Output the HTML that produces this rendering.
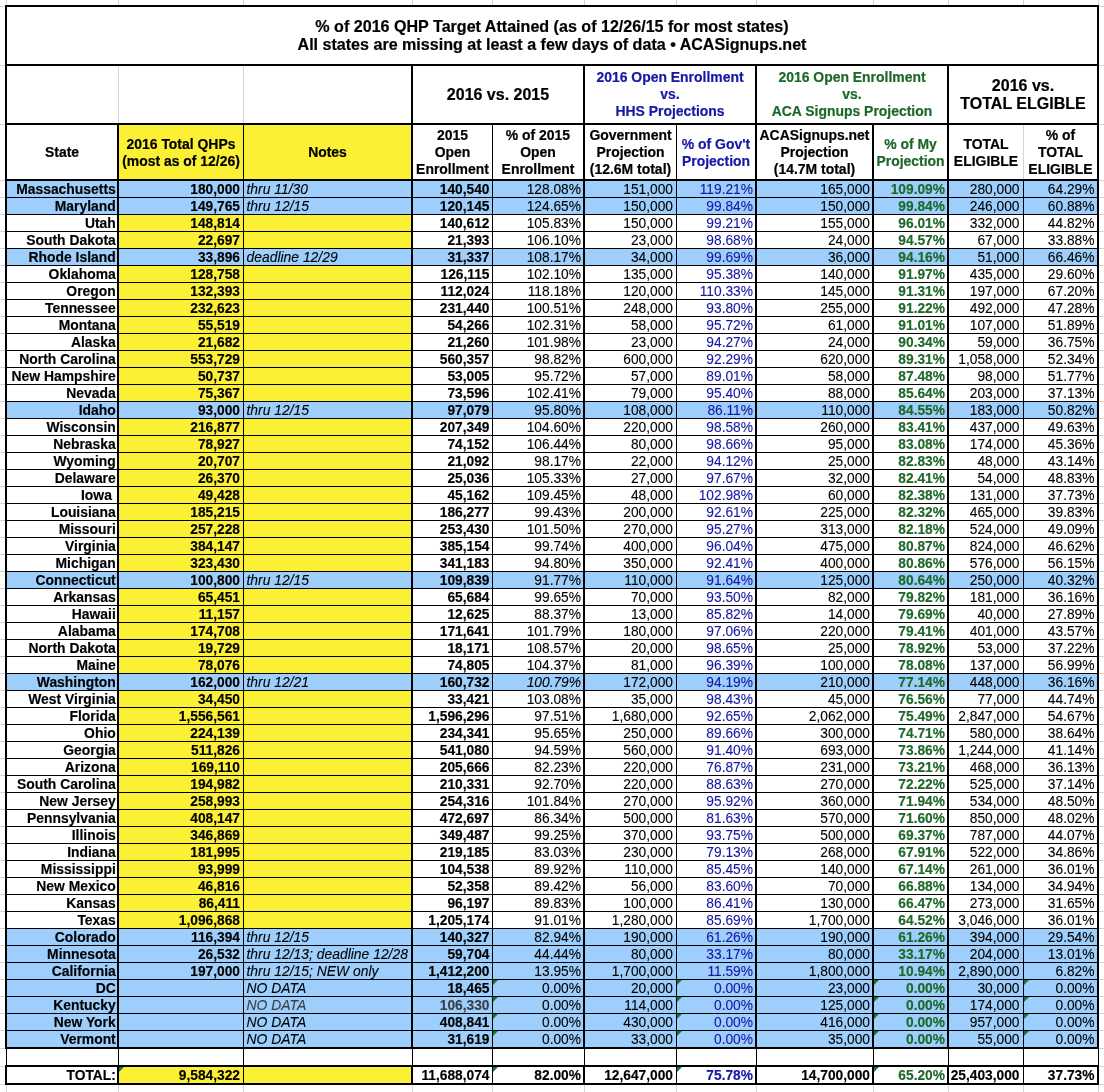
<!DOCTYPE html>
<html lang="en"><head><meta charset="utf-8"><title>% of 2016 QHP Target Attained</title>
<style>
html,body{margin:0;padding:0;background:#fff}
body{width:1104px;height:1092px;position:relative;overflow:hidden;font-family:"Liberation Sans",Arial,Helvetica,sans-serif;color:#000}
.r,.t,.h,.g{position:absolute}
.t{font-size:13.75px;line-height:17px;height:17px;white-space:nowrap;-webkit-text-stroke:0.1px currentColor}
.a{text-align:right}
.b{font-weight:bold;-webkit-text-stroke:0.15px currentColor}
.i{font-style:italic}
.u{color:#1518a6}
.n{color:#1d6829}
.q{color:#3c3f44}
.s{font-size:13.9px}
.g{width:0;height:0;border-top:5px solid #1e7330;border-right:5px solid transparent}
.h{display:flex;align-items:center;justify-content:center;text-align:center;font-weight:bold;font-size:13.95px;line-height:17px;white-space:nowrap;-webkit-text-stroke:0.2px currentColor}
.big{font-size:16px;line-height:18px}
.ttl{font-size:16.08px}
</style></head>
<body>
<div class="r" style="left:6px;top:0px;width:1px;height:5px;background:#d4d4d4"></div>
<div class="r" style="left:6px;top:1085px;width:1px;height:7px;background:#d4d4d4"></div>
<div class="r" style="left:118px;top:0px;width:1px;height:5px;background:#d4d4d4"></div>
<div class="r" style="left:118px;top:1085px;width:1px;height:7px;background:#d4d4d4"></div>
<div class="r" style="left:243px;top:0px;width:1px;height:5px;background:#d4d4d4"></div>
<div class="r" style="left:243px;top:1085px;width:1px;height:7px;background:#d4d4d4"></div>
<div class="r" style="left:412px;top:0px;width:1px;height:5px;background:#d4d4d4"></div>
<div class="r" style="left:412px;top:1085px;width:1px;height:7px;background:#d4d4d4"></div>
<div class="r" style="left:492px;top:0px;width:1px;height:5px;background:#d4d4d4"></div>
<div class="r" style="left:492px;top:1085px;width:1px;height:7px;background:#d4d4d4"></div>
<div class="r" style="left:584px;top:0px;width:1px;height:5px;background:#d4d4d4"></div>
<div class="r" style="left:584px;top:1085px;width:1px;height:7px;background:#d4d4d4"></div>
<div class="r" style="left:676px;top:0px;width:1px;height:5px;background:#d4d4d4"></div>
<div class="r" style="left:676px;top:1085px;width:1px;height:7px;background:#d4d4d4"></div>
<div class="r" style="left:756px;top:0px;width:1px;height:5px;background:#d4d4d4"></div>
<div class="r" style="left:756px;top:1085px;width:1px;height:7px;background:#d4d4d4"></div>
<div class="r" style="left:873px;top:0px;width:1px;height:5px;background:#d4d4d4"></div>
<div class="r" style="left:873px;top:1085px;width:1px;height:7px;background:#d4d4d4"></div>
<div class="r" style="left:948px;top:0px;width:1px;height:5px;background:#d4d4d4"></div>
<div class="r" style="left:948px;top:1085px;width:1px;height:7px;background:#d4d4d4"></div>
<div class="r" style="left:1023px;top:0px;width:1px;height:5px;background:#d4d4d4"></div>
<div class="r" style="left:1023px;top:1085px;width:1px;height:7px;background:#d4d4d4"></div>
<div class="r" style="left:1098px;top:0px;width:1px;height:5px;background:#d4d4d4"></div>
<div class="r" style="left:1098px;top:1085px;width:1px;height:7px;background:#d4d4d4"></div>
<div class="r" style="left:0px;top:6px;width:5px;height:1px;background:#d4d4d4"></div>
<div class="r" style="left:1099px;top:6px;width:5px;height:1px;background:#d4d4d4"></div>
<div class="r" style="left:0px;top:65px;width:5px;height:1px;background:#d4d4d4"></div>
<div class="r" style="left:1099px;top:65px;width:5px;height:1px;background:#d4d4d4"></div>
<div class="r" style="left:0px;top:124px;width:5px;height:1px;background:#d4d4d4"></div>
<div class="r" style="left:1099px;top:124px;width:5px;height:1px;background:#d4d4d4"></div>
<div class="r" style="left:0px;top:180px;width:5px;height:1px;background:#d4d4d4"></div>
<div class="r" style="left:1099px;top:180px;width:5px;height:1px;background:#d4d4d4"></div>
<div class="r" style="left:0px;top:197px;width:5px;height:1px;background:#d4d4d4"></div>
<div class="r" style="left:1099px;top:197px;width:5px;height:1px;background:#d4d4d4"></div>
<div class="r" style="left:0px;top:214px;width:5px;height:1px;background:#d4d4d4"></div>
<div class="r" style="left:1099px;top:214px;width:5px;height:1px;background:#d4d4d4"></div>
<div class="r" style="left:0px;top:231px;width:5px;height:1px;background:#d4d4d4"></div>
<div class="r" style="left:1099px;top:231px;width:5px;height:1px;background:#d4d4d4"></div>
<div class="r" style="left:0px;top:248px;width:5px;height:1px;background:#d4d4d4"></div>
<div class="r" style="left:1099px;top:248px;width:5px;height:1px;background:#d4d4d4"></div>
<div class="r" style="left:0px;top:265px;width:5px;height:1px;background:#d4d4d4"></div>
<div class="r" style="left:1099px;top:265px;width:5px;height:1px;background:#d4d4d4"></div>
<div class="r" style="left:0px;top:282px;width:5px;height:1px;background:#d4d4d4"></div>
<div class="r" style="left:1099px;top:282px;width:5px;height:1px;background:#d4d4d4"></div>
<div class="r" style="left:0px;top:299px;width:5px;height:1px;background:#d4d4d4"></div>
<div class="r" style="left:1099px;top:299px;width:5px;height:1px;background:#d4d4d4"></div>
<div class="r" style="left:0px;top:316px;width:5px;height:1px;background:#d4d4d4"></div>
<div class="r" style="left:1099px;top:316px;width:5px;height:1px;background:#d4d4d4"></div>
<div class="r" style="left:0px;top:333px;width:5px;height:1px;background:#d4d4d4"></div>
<div class="r" style="left:1099px;top:333px;width:5px;height:1px;background:#d4d4d4"></div>
<div class="r" style="left:0px;top:350px;width:5px;height:1px;background:#d4d4d4"></div>
<div class="r" style="left:1099px;top:350px;width:5px;height:1px;background:#d4d4d4"></div>
<div class="r" style="left:0px;top:367px;width:5px;height:1px;background:#d4d4d4"></div>
<div class="r" style="left:1099px;top:367px;width:5px;height:1px;background:#d4d4d4"></div>
<div class="r" style="left:0px;top:384px;width:5px;height:1px;background:#d4d4d4"></div>
<div class="r" style="left:1099px;top:384px;width:5px;height:1px;background:#d4d4d4"></div>
<div class="r" style="left:0px;top:401px;width:5px;height:1px;background:#d4d4d4"></div>
<div class="r" style="left:1099px;top:401px;width:5px;height:1px;background:#d4d4d4"></div>
<div class="r" style="left:0px;top:418px;width:5px;height:1px;background:#d4d4d4"></div>
<div class="r" style="left:1099px;top:418px;width:5px;height:1px;background:#d4d4d4"></div>
<div class="r" style="left:0px;top:435px;width:5px;height:1px;background:#d4d4d4"></div>
<div class="r" style="left:1099px;top:435px;width:5px;height:1px;background:#d4d4d4"></div>
<div class="r" style="left:0px;top:452px;width:5px;height:1px;background:#d4d4d4"></div>
<div class="r" style="left:1099px;top:452px;width:5px;height:1px;background:#d4d4d4"></div>
<div class="r" style="left:0px;top:469px;width:5px;height:1px;background:#d4d4d4"></div>
<div class="r" style="left:1099px;top:469px;width:5px;height:1px;background:#d4d4d4"></div>
<div class="r" style="left:0px;top:486px;width:5px;height:1px;background:#d4d4d4"></div>
<div class="r" style="left:1099px;top:486px;width:5px;height:1px;background:#d4d4d4"></div>
<div class="r" style="left:0px;top:503px;width:5px;height:1px;background:#d4d4d4"></div>
<div class="r" style="left:1099px;top:503px;width:5px;height:1px;background:#d4d4d4"></div>
<div class="r" style="left:0px;top:520px;width:5px;height:1px;background:#d4d4d4"></div>
<div class="r" style="left:1099px;top:520px;width:5px;height:1px;background:#d4d4d4"></div>
<div class="r" style="left:0px;top:537px;width:5px;height:1px;background:#d4d4d4"></div>
<div class="r" style="left:1099px;top:537px;width:5px;height:1px;background:#d4d4d4"></div>
<div class="r" style="left:0px;top:554px;width:5px;height:1px;background:#d4d4d4"></div>
<div class="r" style="left:1099px;top:554px;width:5px;height:1px;background:#d4d4d4"></div>
<div class="r" style="left:0px;top:571px;width:5px;height:1px;background:#d4d4d4"></div>
<div class="r" style="left:1099px;top:571px;width:5px;height:1px;background:#d4d4d4"></div>
<div class="r" style="left:0px;top:588px;width:5px;height:1px;background:#d4d4d4"></div>
<div class="r" style="left:1099px;top:588px;width:5px;height:1px;background:#d4d4d4"></div>
<div class="r" style="left:0px;top:605px;width:5px;height:1px;background:#d4d4d4"></div>
<div class="r" style="left:1099px;top:605px;width:5px;height:1px;background:#d4d4d4"></div>
<div class="r" style="left:0px;top:622px;width:5px;height:1px;background:#d4d4d4"></div>
<div class="r" style="left:1099px;top:622px;width:5px;height:1px;background:#d4d4d4"></div>
<div class="r" style="left:0px;top:639px;width:5px;height:1px;background:#d4d4d4"></div>
<div class="r" style="left:1099px;top:639px;width:5px;height:1px;background:#d4d4d4"></div>
<div class="r" style="left:0px;top:656px;width:5px;height:1px;background:#d4d4d4"></div>
<div class="r" style="left:1099px;top:656px;width:5px;height:1px;background:#d4d4d4"></div>
<div class="r" style="left:0px;top:673px;width:5px;height:1px;background:#d4d4d4"></div>
<div class="r" style="left:1099px;top:673px;width:5px;height:1px;background:#d4d4d4"></div>
<div class="r" style="left:0px;top:690px;width:5px;height:1px;background:#d4d4d4"></div>
<div class="r" style="left:1099px;top:690px;width:5px;height:1px;background:#d4d4d4"></div>
<div class="r" style="left:0px;top:707px;width:5px;height:1px;background:#d4d4d4"></div>
<div class="r" style="left:1099px;top:707px;width:5px;height:1px;background:#d4d4d4"></div>
<div class="r" style="left:0px;top:724px;width:5px;height:1px;background:#d4d4d4"></div>
<div class="r" style="left:1099px;top:724px;width:5px;height:1px;background:#d4d4d4"></div>
<div class="r" style="left:0px;top:741px;width:5px;height:1px;background:#d4d4d4"></div>
<div class="r" style="left:1099px;top:741px;width:5px;height:1px;background:#d4d4d4"></div>
<div class="r" style="left:0px;top:758px;width:5px;height:1px;background:#d4d4d4"></div>
<div class="r" style="left:1099px;top:758px;width:5px;height:1px;background:#d4d4d4"></div>
<div class="r" style="left:0px;top:775px;width:5px;height:1px;background:#d4d4d4"></div>
<div class="r" style="left:1099px;top:775px;width:5px;height:1px;background:#d4d4d4"></div>
<div class="r" style="left:0px;top:792px;width:5px;height:1px;background:#d4d4d4"></div>
<div class="r" style="left:1099px;top:792px;width:5px;height:1px;background:#d4d4d4"></div>
<div class="r" style="left:0px;top:809px;width:5px;height:1px;background:#d4d4d4"></div>
<div class="r" style="left:1099px;top:809px;width:5px;height:1px;background:#d4d4d4"></div>
<div class="r" style="left:0px;top:826px;width:5px;height:1px;background:#d4d4d4"></div>
<div class="r" style="left:1099px;top:826px;width:5px;height:1px;background:#d4d4d4"></div>
<div class="r" style="left:0px;top:843px;width:5px;height:1px;background:#d4d4d4"></div>
<div class="r" style="left:1099px;top:843px;width:5px;height:1px;background:#d4d4d4"></div>
<div class="r" style="left:0px;top:860px;width:5px;height:1px;background:#d4d4d4"></div>
<div class="r" style="left:1099px;top:860px;width:5px;height:1px;background:#d4d4d4"></div>
<div class="r" style="left:0px;top:877px;width:5px;height:1px;background:#d4d4d4"></div>
<div class="r" style="left:1099px;top:877px;width:5px;height:1px;background:#d4d4d4"></div>
<div class="r" style="left:0px;top:894px;width:5px;height:1px;background:#d4d4d4"></div>
<div class="r" style="left:1099px;top:894px;width:5px;height:1px;background:#d4d4d4"></div>
<div class="r" style="left:0px;top:911px;width:5px;height:1px;background:#d4d4d4"></div>
<div class="r" style="left:1099px;top:911px;width:5px;height:1px;background:#d4d4d4"></div>
<div class="r" style="left:0px;top:928px;width:5px;height:1px;background:#d4d4d4"></div>
<div class="r" style="left:1099px;top:928px;width:5px;height:1px;background:#d4d4d4"></div>
<div class="r" style="left:0px;top:945px;width:5px;height:1px;background:#d4d4d4"></div>
<div class="r" style="left:1099px;top:945px;width:5px;height:1px;background:#d4d4d4"></div>
<div class="r" style="left:0px;top:962px;width:5px;height:1px;background:#d4d4d4"></div>
<div class="r" style="left:1099px;top:962px;width:5px;height:1px;background:#d4d4d4"></div>
<div class="r" style="left:0px;top:979px;width:5px;height:1px;background:#d4d4d4"></div>
<div class="r" style="left:1099px;top:979px;width:5px;height:1px;background:#d4d4d4"></div>
<div class="r" style="left:0px;top:996px;width:5px;height:1px;background:#d4d4d4"></div>
<div class="r" style="left:1099px;top:996px;width:5px;height:1px;background:#d4d4d4"></div>
<div class="r" style="left:0px;top:1013px;width:5px;height:1px;background:#d4d4d4"></div>
<div class="r" style="left:1099px;top:1013px;width:5px;height:1px;background:#d4d4d4"></div>
<div class="r" style="left:0px;top:1030px;width:5px;height:1px;background:#d4d4d4"></div>
<div class="r" style="left:1099px;top:1030px;width:5px;height:1px;background:#d4d4d4"></div>
<div class="r" style="left:0px;top:1048px;width:5px;height:1px;background:#d4d4d4"></div>
<div class="r" style="left:1099px;top:1048px;width:5px;height:1px;background:#d4d4d4"></div>
<div class="r" style="left:0px;top:1066px;width:5px;height:1px;background:#d4d4d4"></div>
<div class="r" style="left:1099px;top:1066px;width:5px;height:1px;background:#d4d4d4"></div>
<div class="r" style="left:0px;top:1084px;width:5px;height:1px;background:#d4d4d4"></div>
<div class="r" style="left:1099px;top:1084px;width:5px;height:1px;background:#d4d4d4"></div>
<div class="r" style="left:118px;top:66px;width:1px;height:57px;background:#d4d4d4"></div>
<div class="r" style="left:243px;top:66px;width:1px;height:57px;background:#d4d4d4"></div>
<div class="r" style="left:1023px;top:125px;width:1px;height:54px;background:#d4d4d4"></div>
<div class="r" style="left:119px;top:125px;width:292px;height:54px;background:#fbf034"></div>
<div class="r" style="left:7px;top:181px;width:1090px;height:16px;background:#9dcefc"></div>
<div class="r" style="left:7px;top:198px;width:1090px;height:16px;background:#9dcefc"></div>
<div class="r" style="left:119px;top:215px;width:292px;height:16px;background:#fbf034"></div>
<div class="r" style="left:119px;top:232px;width:292px;height:16px;background:#fbf034"></div>
<div class="r" style="left:7px;top:249px;width:1090px;height:16px;background:#9dcefc"></div>
<div class="r" style="left:119px;top:266px;width:292px;height:16px;background:#fbf034"></div>
<div class="r" style="left:119px;top:283px;width:292px;height:16px;background:#fbf034"></div>
<div class="r" style="left:119px;top:300px;width:292px;height:16px;background:#fbf034"></div>
<div class="r" style="left:119px;top:317px;width:292px;height:16px;background:#fbf034"></div>
<div class="r" style="left:119px;top:334px;width:292px;height:16px;background:#fbf034"></div>
<div class="r" style="left:119px;top:351px;width:292px;height:16px;background:#fbf034"></div>
<div class="r" style="left:119px;top:368px;width:292px;height:16px;background:#fbf034"></div>
<div class="r" style="left:119px;top:385px;width:292px;height:16px;background:#fbf034"></div>
<div class="r" style="left:7px;top:402px;width:1090px;height:16px;background:#9dcefc"></div>
<div class="r" style="left:119px;top:419px;width:292px;height:16px;background:#fbf034"></div>
<div class="r" style="left:119px;top:436px;width:292px;height:16px;background:#fbf034"></div>
<div class="r" style="left:119px;top:453px;width:292px;height:16px;background:#fbf034"></div>
<div class="r" style="left:119px;top:470px;width:292px;height:16px;background:#fbf034"></div>
<div class="r" style="left:119px;top:487px;width:292px;height:16px;background:#fbf034"></div>
<div class="r" style="left:119px;top:504px;width:292px;height:16px;background:#fbf034"></div>
<div class="r" style="left:119px;top:521px;width:292px;height:16px;background:#fbf034"></div>
<div class="r" style="left:119px;top:538px;width:292px;height:16px;background:#fbf034"></div>
<div class="r" style="left:119px;top:555px;width:292px;height:16px;background:#fbf034"></div>
<div class="r" style="left:7px;top:572px;width:1090px;height:16px;background:#9dcefc"></div>
<div class="r" style="left:119px;top:589px;width:292px;height:16px;background:#fbf034"></div>
<div class="r" style="left:119px;top:606px;width:292px;height:16px;background:#fbf034"></div>
<div class="r" style="left:119px;top:623px;width:292px;height:16px;background:#fbf034"></div>
<div class="r" style="left:119px;top:640px;width:292px;height:16px;background:#fbf034"></div>
<div class="r" style="left:119px;top:657px;width:292px;height:16px;background:#fbf034"></div>
<div class="r" style="left:7px;top:674px;width:1090px;height:16px;background:#9dcefc"></div>
<div class="r" style="left:119px;top:691px;width:292px;height:16px;background:#fbf034"></div>
<div class="r" style="left:119px;top:708px;width:292px;height:16px;background:#fbf034"></div>
<div class="r" style="left:119px;top:725px;width:292px;height:16px;background:#fbf034"></div>
<div class="r" style="left:119px;top:742px;width:292px;height:16px;background:#fbf034"></div>
<div class="r" style="left:119px;top:759px;width:292px;height:16px;background:#fbf034"></div>
<div class="r" style="left:119px;top:776px;width:292px;height:16px;background:#fbf034"></div>
<div class="r" style="left:119px;top:793px;width:292px;height:16px;background:#fbf034"></div>
<div class="r" style="left:119px;top:810px;width:292px;height:16px;background:#fbf034"></div>
<div class="r" style="left:119px;top:827px;width:292px;height:16px;background:#fbf034"></div>
<div class="r" style="left:119px;top:844px;width:292px;height:16px;background:#fbf034"></div>
<div class="r" style="left:119px;top:861px;width:292px;height:16px;background:#fbf034"></div>
<div class="r" style="left:119px;top:878px;width:292px;height:16px;background:#fbf034"></div>
<div class="r" style="left:119px;top:895px;width:292px;height:16px;background:#fbf034"></div>
<div class="r" style="left:119px;top:912px;width:292px;height:16px;background:#fbf034"></div>
<div class="r" style="left:7px;top:929px;width:1090px;height:16px;background:#9dcefc"></div>
<div class="r" style="left:7px;top:946px;width:1090px;height:16px;background:#9dcefc"></div>
<div class="r" style="left:7px;top:963px;width:1090px;height:16px;background:#9dcefc"></div>
<div class="r" style="left:7px;top:980px;width:1090px;height:16px;background:#9dcefc"></div>
<div class="r" style="left:7px;top:997px;width:1090px;height:16px;background:#9dcefc"></div>
<div class="r" style="left:7px;top:1014px;width:1090px;height:16px;background:#9dcefc"></div>
<div class="r" style="left:7px;top:1031px;width:1090px;height:16px;background:#9dcefc"></div>
<div class="r" style="left:119px;top:1067px;width:292px;height:16px;background:#fbf034"></div>
<div class="r" style="left:5px;top:5px;width:1094px;height:2px;background:#000"></div>
<div class="r" style="left:5px;top:1083px;width:1094px;height:2px;background:#000"></div>
<div class="r" style="left:5px;top:5px;width:2px;height:1080px;background:#000"></div>
<div class="r" style="left:1097px;top:5px;width:2px;height:1080px;background:#000"></div>
<div class="r" style="left:5px;top:64px;width:1094px;height:2px;background:#000"></div>
<div class="r" style="left:5px;top:123px;width:1094px;height:2px;background:#000"></div>
<div class="r" style="left:5px;top:179px;width:1094px;height:2px;background:#000"></div>
<div class="r" style="left:5px;top:1047px;width:1094px;height:2px;background:#000"></div>
<div class="r" style="left:5px;top:1065px;width:1094px;height:2px;background:#000"></div>
<div class="r" style="left:7px;top:197px;width:1090px;height:1px;background:#000"></div>
<div class="r" style="left:7px;top:214px;width:1090px;height:1px;background:#000"></div>
<div class="r" style="left:7px;top:231px;width:1090px;height:1px;background:#000"></div>
<div class="r" style="left:7px;top:248px;width:1090px;height:1px;background:#000"></div>
<div class="r" style="left:7px;top:265px;width:1090px;height:1px;background:#000"></div>
<div class="r" style="left:7px;top:282px;width:1090px;height:1px;background:#000"></div>
<div class="r" style="left:7px;top:299px;width:1090px;height:1px;background:#000"></div>
<div class="r" style="left:7px;top:316px;width:1090px;height:1px;background:#000"></div>
<div class="r" style="left:7px;top:333px;width:1090px;height:1px;background:#000"></div>
<div class="r" style="left:7px;top:350px;width:1090px;height:1px;background:#000"></div>
<div class="r" style="left:7px;top:367px;width:1090px;height:1px;background:#000"></div>
<div class="r" style="left:7px;top:384px;width:1090px;height:1px;background:#000"></div>
<div class="r" style="left:7px;top:401px;width:1090px;height:1px;background:#000"></div>
<div class="r" style="left:7px;top:418px;width:1090px;height:1px;background:#000"></div>
<div class="r" style="left:7px;top:435px;width:1090px;height:1px;background:#000"></div>
<div class="r" style="left:7px;top:452px;width:1090px;height:1px;background:#000"></div>
<div class="r" style="left:7px;top:469px;width:1090px;height:1px;background:#000"></div>
<div class="r" style="left:7px;top:486px;width:1090px;height:1px;background:#000"></div>
<div class="r" style="left:7px;top:503px;width:1090px;height:1px;background:#000"></div>
<div class="r" style="left:7px;top:520px;width:1090px;height:1px;background:#000"></div>
<div class="r" style="left:7px;top:537px;width:1090px;height:1px;background:#000"></div>
<div class="r" style="left:7px;top:554px;width:1090px;height:1px;background:#000"></div>
<div class="r" style="left:7px;top:571px;width:1090px;height:1px;background:#000"></div>
<div class="r" style="left:7px;top:588px;width:1090px;height:1px;background:#000"></div>
<div class="r" style="left:7px;top:605px;width:1090px;height:1px;background:#000"></div>
<div class="r" style="left:7px;top:622px;width:1090px;height:1px;background:#000"></div>
<div class="r" style="left:7px;top:639px;width:1090px;height:1px;background:#000"></div>
<div class="r" style="left:7px;top:656px;width:1090px;height:1px;background:#000"></div>
<div class="r" style="left:7px;top:673px;width:1090px;height:1px;background:#000"></div>
<div class="r" style="left:7px;top:690px;width:1090px;height:1px;background:#000"></div>
<div class="r" style="left:7px;top:707px;width:1090px;height:1px;background:#000"></div>
<div class="r" style="left:7px;top:724px;width:1090px;height:1px;background:#000"></div>
<div class="r" style="left:7px;top:741px;width:1090px;height:1px;background:#000"></div>
<div class="r" style="left:7px;top:758px;width:1090px;height:1px;background:#000"></div>
<div class="r" style="left:7px;top:775px;width:1090px;height:1px;background:#000"></div>
<div class="r" style="left:7px;top:792px;width:1090px;height:1px;background:#000"></div>
<div class="r" style="left:7px;top:809px;width:1090px;height:1px;background:#000"></div>
<div class="r" style="left:7px;top:826px;width:1090px;height:1px;background:#000"></div>
<div class="r" style="left:7px;top:843px;width:1090px;height:1px;background:#000"></div>
<div class="r" style="left:7px;top:860px;width:1090px;height:1px;background:#000"></div>
<div class="r" style="left:7px;top:877px;width:1090px;height:1px;background:#000"></div>
<div class="r" style="left:7px;top:894px;width:1090px;height:1px;background:#000"></div>
<div class="r" style="left:7px;top:911px;width:1090px;height:1px;background:#000"></div>
<div class="r" style="left:7px;top:928px;width:1090px;height:1px;background:#000"></div>
<div class="r" style="left:7px;top:945px;width:1090px;height:1px;background:#000"></div>
<div class="r" style="left:7px;top:962px;width:1090px;height:1px;background:#000"></div>
<div class="r" style="left:7px;top:979px;width:1090px;height:1px;background:#000"></div>
<div class="r" style="left:7px;top:996px;width:1090px;height:1px;background:#000"></div>
<div class="r" style="left:7px;top:1013px;width:1090px;height:1px;background:#000"></div>
<div class="r" style="left:7px;top:1030px;width:1090px;height:1px;background:#000"></div>
<div class="r" style="left:117px;top:125px;width:2px;height:958px;background:#000"></div>
<div class="r" style="left:411px;top:66px;width:2px;height:57px;background:#000"></div>
<div class="r" style="left:411px;top:125px;width:2px;height:958px;background:#000"></div>
<div class="r" style="left:583px;top:66px;width:2px;height:57px;background:#000"></div>
<div class="r" style="left:583px;top:125px;width:2px;height:958px;background:#000"></div>
<div class="r" style="left:755px;top:66px;width:2px;height:57px;background:#000"></div>
<div class="r" style="left:755px;top:125px;width:2px;height:958px;background:#000"></div>
<div class="r" style="left:872px;top:125px;width:2px;height:958px;background:#000"></div>
<div class="r" style="left:947px;top:66px;width:2px;height:57px;background:#000"></div>
<div class="r" style="left:947px;top:125px;width:2px;height:958px;background:#000"></div>
<div class="r" style="left:243px;top:125px;width:1px;height:958px;background:#000"></div>
<div class="r" style="left:492px;top:125px;width:1px;height:958px;background:#000"></div>
<div class="r" style="left:676px;top:125px;width:1px;height:958px;background:#000"></div>
<div class="r" style="left:1023px;top:181px;width:1px;height:902px;background:#000"></div>
<div class="r" style="left:5px;top:1049px;width:1094px;height:16px;background:#fff"></div>
<div class="r" style="left:6px;top:1049px;width:1px;height:16px;background:#000"></div>
<div class="r" style="left:118px;top:1049px;width:1px;height:16px;background:#000"></div>
<div class="r" style="left:243px;top:1049px;width:1px;height:16px;background:#000"></div>
<div class="r" style="left:412px;top:1049px;width:1px;height:16px;background:#000"></div>
<div class="r" style="left:492px;top:1049px;width:1px;height:16px;background:#000"></div>
<div class="r" style="left:584px;top:1049px;width:1px;height:16px;background:#000"></div>
<div class="r" style="left:676px;top:1049px;width:1px;height:16px;background:#000"></div>
<div class="r" style="left:756px;top:1049px;width:1px;height:16px;background:#000"></div>
<div class="r" style="left:873px;top:1049px;width:1px;height:16px;background:#000"></div>
<div class="r" style="left:948px;top:1049px;width:1px;height:16px;background:#000"></div>
<div class="r" style="left:1023px;top:1049px;width:1px;height:16px;background:#000"></div>
<div class="r" style="left:1098px;top:1049px;width:1px;height:16px;background:#000"></div>
<div class="t a b s" style="right:988.25px;top:181px">Massachusetts</div>
<div class="t a b" style="right:864px;top:181px">180,000</div>
<div class="t i s" style="left:246.5px;top:181px">thru 11/30</div>
<div class="t a b" style="right:614.5px;top:181px">140,540</div>
<div class="t a " style="right:523px;top:181px">128.08%</div>
<div class="t a " style="right:431px;top:181px">151,000</div>
<div class="t a u" style="right:351px;top:181px">119.21%</div>
<div class="t a " style="right:234px;top:181px">165,000</div>
<div class="t a b n" style="right:159px;top:181px">109.09%</div>
<div class="t a " style="right:84.5px;top:181px">280,000</div>
<div class="t a " style="right:9.5px;top:181px">64.29%</div>
<div class="t a b s" style="right:988.25px;top:198px">Maryland</div>
<div class="t a b" style="right:864px;top:198px">149,765</div>
<div class="t i s" style="left:246.5px;top:198px">thru 12/15</div>
<div class="t a b" style="right:614.5px;top:198px">120,145</div>
<div class="t a " style="right:523px;top:198px">124.65%</div>
<div class="t a " style="right:431px;top:198px">150,000</div>
<div class="t a u" style="right:351px;top:198px">99.84%</div>
<div class="t a " style="right:234px;top:198px">150,000</div>
<div class="t a b n" style="right:159px;top:198px">99.84%</div>
<div class="t a " style="right:84.5px;top:198px">246,000</div>
<div class="t a " style="right:9.5px;top:198px">60.88%</div>
<div class="t a b s" style="right:988.25px;top:215px">Utah</div>
<div class="t a b" style="right:864px;top:215px">148,814</div>
<div class="t a b" style="right:614.5px;top:215px">140,612</div>
<div class="t a " style="right:523px;top:215px">105.83%</div>
<div class="t a " style="right:431px;top:215px">150,000</div>
<div class="t a u" style="right:351px;top:215px">99.21%</div>
<div class="t a " style="right:234px;top:215px">155,000</div>
<div class="t a b n" style="right:159px;top:215px">96.01%</div>
<div class="t a " style="right:84.5px;top:215px">332,000</div>
<div class="t a " style="right:9.5px;top:215px">44.82%</div>
<div class="t a b s" style="right:988.25px;top:232px">South Dakota</div>
<div class="t a b" style="right:864px;top:232px">22,697</div>
<div class="t a b" style="right:614.5px;top:232px">21,393</div>
<div class="t a " style="right:523px;top:232px">106.10%</div>
<div class="t a " style="right:431px;top:232px">23,000</div>
<div class="t a u" style="right:351px;top:232px">98.68%</div>
<div class="t a " style="right:234px;top:232px">24,000</div>
<div class="t a b n" style="right:159px;top:232px">94.57%</div>
<div class="t a " style="right:84.5px;top:232px">67,000</div>
<div class="t a " style="right:9.5px;top:232px">33.88%</div>
<div class="t a b s" style="right:988.25px;top:249px">Rhode Island</div>
<div class="t a b" style="right:864px;top:249px">33,896</div>
<div class="t i s" style="left:246.5px;top:249px">deadline 12/29</div>
<div class="t a b" style="right:614.5px;top:249px">31,337</div>
<div class="t a " style="right:523px;top:249px">108.17%</div>
<div class="t a " style="right:431px;top:249px">34,000</div>
<div class="t a u" style="right:351px;top:249px">99.69%</div>
<div class="t a " style="right:234px;top:249px">36,000</div>
<div class="t a b n" style="right:159px;top:249px">94.16%</div>
<div class="t a " style="right:84.5px;top:249px">51,000</div>
<div class="t a " style="right:9.5px;top:249px">66.46%</div>
<div class="t a b s" style="right:988.25px;top:266px">Oklahoma</div>
<div class="t a b" style="right:864px;top:266px">128,758</div>
<div class="t a b" style="right:614.5px;top:266px">126,115</div>
<div class="t a " style="right:523px;top:266px">102.10%</div>
<div class="t a " style="right:431px;top:266px">135,000</div>
<div class="t a u" style="right:351px;top:266px">95.38%</div>
<div class="t a " style="right:234px;top:266px">140,000</div>
<div class="t a b n" style="right:159px;top:266px">91.97%</div>
<div class="t a " style="right:84.5px;top:266px">435,000</div>
<div class="t a " style="right:9.5px;top:266px">29.60%</div>
<div class="t a b s" style="right:988.25px;top:283px">Oregon</div>
<div class="t a b" style="right:864px;top:283px">132,393</div>
<div class="t a b" style="right:614.5px;top:283px">112,024</div>
<div class="t a " style="right:523px;top:283px">118.18%</div>
<div class="t a " style="right:431px;top:283px">120,000</div>
<div class="t a u" style="right:351px;top:283px">110.33%</div>
<div class="t a " style="right:234px;top:283px">145,000</div>
<div class="t a b n" style="right:159px;top:283px">91.31%</div>
<div class="t a " style="right:84.5px;top:283px">197,000</div>
<div class="t a " style="right:9.5px;top:283px">67.20%</div>
<div class="t a b s" style="right:988.25px;top:300px">Tennessee</div>
<div class="t a b" style="right:864px;top:300px">232,623</div>
<div class="t a b" style="right:614.5px;top:300px">231,440</div>
<div class="t a " style="right:523px;top:300px">100.51%</div>
<div class="t a " style="right:431px;top:300px">248,000</div>
<div class="t a u" style="right:351px;top:300px">93.80%</div>
<div class="t a " style="right:234px;top:300px">255,000</div>
<div class="t a b n" style="right:159px;top:300px">91.22%</div>
<div class="t a " style="right:84.5px;top:300px">492,000</div>
<div class="t a " style="right:9.5px;top:300px">47.28%</div>
<div class="t a b s" style="right:988.25px;top:317px">Montana</div>
<div class="t a b" style="right:864px;top:317px">55,519</div>
<div class="t a b" style="right:614.5px;top:317px">54,266</div>
<div class="t a " style="right:523px;top:317px">102.31%</div>
<div class="t a " style="right:431px;top:317px">58,000</div>
<div class="t a u" style="right:351px;top:317px">95.72%</div>
<div class="t a " style="right:234px;top:317px">61,000</div>
<div class="t a b n" style="right:159px;top:317px">91.01%</div>
<div class="t a " style="right:84.5px;top:317px">107,000</div>
<div class="t a " style="right:9.5px;top:317px">51.89%</div>
<div class="t a b s" style="right:988.25px;top:334px">Alaska</div>
<div class="t a b" style="right:864px;top:334px">21,682</div>
<div class="t a b" style="right:614.5px;top:334px">21,260</div>
<div class="t a " style="right:523px;top:334px">101.98%</div>
<div class="t a " style="right:431px;top:334px">23,000</div>
<div class="t a u" style="right:351px;top:334px">94.27%</div>
<div class="t a " style="right:234px;top:334px">24,000</div>
<div class="t a b n" style="right:159px;top:334px">90.34%</div>
<div class="t a " style="right:84.5px;top:334px">59,000</div>
<div class="t a " style="right:9.5px;top:334px">36.75%</div>
<div class="t a b s" style="right:988.25px;top:351px">North Carolina</div>
<div class="t a b" style="right:864px;top:351px">553,729</div>
<div class="t a b" style="right:614.5px;top:351px">560,357</div>
<div class="t a " style="right:523px;top:351px">98.82%</div>
<div class="t a " style="right:431px;top:351px">600,000</div>
<div class="t a u" style="right:351px;top:351px">92.29%</div>
<div class="t a " style="right:234px;top:351px">620,000</div>
<div class="t a b n" style="right:159px;top:351px">89.31%</div>
<div class="t a " style="right:84.5px;top:351px">1,058,000</div>
<div class="t a " style="right:9.5px;top:351px">52.34%</div>
<div class="t a b s" style="right:988.25px;top:368px">New Hampshire</div>
<div class="t a b" style="right:864px;top:368px">50,737</div>
<div class="t a b" style="right:614.5px;top:368px">53,005</div>
<div class="t a " style="right:523px;top:368px">95.72%</div>
<div class="t a " style="right:431px;top:368px">57,000</div>
<div class="t a u" style="right:351px;top:368px">89.01%</div>
<div class="t a " style="right:234px;top:368px">58,000</div>
<div class="t a b n" style="right:159px;top:368px">87.48%</div>
<div class="t a " style="right:84.5px;top:368px">98,000</div>
<div class="t a " style="right:9.5px;top:368px">51.77%</div>
<div class="t a b s" style="right:988.25px;top:385px">Nevada</div>
<div class="t a b" style="right:864px;top:385px">75,367</div>
<div class="t a b" style="right:614.5px;top:385px">73,596</div>
<div class="t a " style="right:523px;top:385px">102.41%</div>
<div class="t a " style="right:431px;top:385px">79,000</div>
<div class="t a u" style="right:351px;top:385px">95.40%</div>
<div class="t a " style="right:234px;top:385px">88,000</div>
<div class="t a b n" style="right:159px;top:385px">85.64%</div>
<div class="t a " style="right:84.5px;top:385px">203,000</div>
<div class="t a " style="right:9.5px;top:385px">37.13%</div>
<div class="t a b s" style="right:988.25px;top:402px">Idaho</div>
<div class="t a b" style="right:864px;top:402px">93,000</div>
<div class="t i s" style="left:246.5px;top:402px">thru 12/15</div>
<div class="t a b" style="right:614.5px;top:402px">97,079</div>
<div class="t a " style="right:523px;top:402px">95.80%</div>
<div class="t a " style="right:431px;top:402px">108,000</div>
<div class="t a u" style="right:351px;top:402px">86.11%</div>
<div class="t a " style="right:234px;top:402px">110,000</div>
<div class="t a b n" style="right:159px;top:402px">84.55%</div>
<div class="t a " style="right:84.5px;top:402px">183,000</div>
<div class="t a " style="right:9.5px;top:402px">50.82%</div>
<div class="t a b s" style="right:988.25px;top:419px">Wisconsin</div>
<div class="t a b" style="right:864px;top:419px">216,877</div>
<div class="t a b" style="right:614.5px;top:419px">207,349</div>
<div class="t a " style="right:523px;top:419px">104.60%</div>
<div class="t a " style="right:431px;top:419px">220,000</div>
<div class="t a u" style="right:351px;top:419px">98.58%</div>
<div class="t a " style="right:234px;top:419px">260,000</div>
<div class="t a b n" style="right:159px;top:419px">83.41%</div>
<div class="t a " style="right:84.5px;top:419px">437,000</div>
<div class="t a " style="right:9.5px;top:419px">49.63%</div>
<div class="t a b s" style="right:988.25px;top:436px">Nebraska</div>
<div class="t a b" style="right:864px;top:436px">78,927</div>
<div class="t a b" style="right:614.5px;top:436px">74,152</div>
<div class="t a " style="right:523px;top:436px">106.44%</div>
<div class="t a " style="right:431px;top:436px">80,000</div>
<div class="t a u" style="right:351px;top:436px">98.66%</div>
<div class="t a " style="right:234px;top:436px">95,000</div>
<div class="t a b n" style="right:159px;top:436px">83.08%</div>
<div class="t a " style="right:84.5px;top:436px">174,000</div>
<div class="t a " style="right:9.5px;top:436px">45.36%</div>
<div class="t a b s" style="right:988.25px;top:453px">Wyoming</div>
<div class="t a b" style="right:864px;top:453px">20,707</div>
<div class="t a b" style="right:614.5px;top:453px">21,092</div>
<div class="t a " style="right:523px;top:453px">98.17%</div>
<div class="t a " style="right:431px;top:453px">22,000</div>
<div class="t a u" style="right:351px;top:453px">94.12%</div>
<div class="t a " style="right:234px;top:453px">25,000</div>
<div class="t a b n" style="right:159px;top:453px">82.83%</div>
<div class="t a " style="right:84.5px;top:453px">48,000</div>
<div class="t a " style="right:9.5px;top:453px">43.14%</div>
<div class="t a b s" style="right:988.25px;top:470px">Delaware</div>
<div class="t a b" style="right:864px;top:470px">26,370</div>
<div class="t a b" style="right:614.5px;top:470px">25,036</div>
<div class="t a " style="right:523px;top:470px">105.33%</div>
<div class="t a " style="right:431px;top:470px">27,000</div>
<div class="t a u" style="right:351px;top:470px">97.67%</div>
<div class="t a " style="right:234px;top:470px">32,000</div>
<div class="t a b n" style="right:159px;top:470px">82.41%</div>
<div class="t a " style="right:84.5px;top:470px">54,000</div>
<div class="t a " style="right:9.5px;top:470px">48.83%</div>
<div class="t a b s" style="right:988.25px;top:487px">Iowa&nbsp;</div>
<div class="t a b" style="right:864px;top:487px">49,428</div>
<div class="t a b" style="right:614.5px;top:487px">45,162</div>
<div class="t a " style="right:523px;top:487px">109.45%</div>
<div class="t a " style="right:431px;top:487px">48,000</div>
<div class="t a u" style="right:351px;top:487px">102.98%</div>
<div class="t a " style="right:234px;top:487px">60,000</div>
<div class="t a b n" style="right:159px;top:487px">82.38%</div>
<div class="t a " style="right:84.5px;top:487px">131,000</div>
<div class="t a " style="right:9.5px;top:487px">37.73%</div>
<div class="t a b s" style="right:988.25px;top:504px">Louisiana</div>
<div class="t a b" style="right:864px;top:504px">185,215</div>
<div class="t a b" style="right:614.5px;top:504px">186,277</div>
<div class="t a " style="right:523px;top:504px">99.43%</div>
<div class="t a " style="right:431px;top:504px">200,000</div>
<div class="t a u" style="right:351px;top:504px">92.61%</div>
<div class="t a " style="right:234px;top:504px">225,000</div>
<div class="t a b n" style="right:159px;top:504px">82.32%</div>
<div class="t a " style="right:84.5px;top:504px">465,000</div>
<div class="t a " style="right:9.5px;top:504px">39.83%</div>
<div class="t a b s" style="right:988.25px;top:521px">Missouri</div>
<div class="t a b" style="right:864px;top:521px">257,228</div>
<div class="t a b" style="right:614.5px;top:521px">253,430</div>
<div class="t a " style="right:523px;top:521px">101.50%</div>
<div class="t a " style="right:431px;top:521px">270,000</div>
<div class="t a u" style="right:351px;top:521px">95.27%</div>
<div class="t a " style="right:234px;top:521px">313,000</div>
<div class="t a b n" style="right:159px;top:521px">82.18%</div>
<div class="t a " style="right:84.5px;top:521px">524,000</div>
<div class="t a " style="right:9.5px;top:521px">49.09%</div>
<div class="t a b s" style="right:988.25px;top:538px">Virginia</div>
<div class="t a b" style="right:864px;top:538px">384,147</div>
<div class="t a b" style="right:614.5px;top:538px">385,154</div>
<div class="t a " style="right:523px;top:538px">99.74%</div>
<div class="t a " style="right:431px;top:538px">400,000</div>
<div class="t a u" style="right:351px;top:538px">96.04%</div>
<div class="t a " style="right:234px;top:538px">475,000</div>
<div class="t a b n" style="right:159px;top:538px">80.87%</div>
<div class="t a " style="right:84.5px;top:538px">824,000</div>
<div class="t a " style="right:9.5px;top:538px">46.62%</div>
<div class="t a b s" style="right:988.25px;top:555px">Michigan</div>
<div class="t a b" style="right:864px;top:555px">323,430</div>
<div class="t a b" style="right:614.5px;top:555px">341,183</div>
<div class="t a " style="right:523px;top:555px">94.80%</div>
<div class="t a " style="right:431px;top:555px">350,000</div>
<div class="t a u" style="right:351px;top:555px">92.41%</div>
<div class="t a " style="right:234px;top:555px">400,000</div>
<div class="t a b n" style="right:159px;top:555px">80.86%</div>
<div class="t a " style="right:84.5px;top:555px">576,000</div>
<div class="t a " style="right:9.5px;top:555px">56.15%</div>
<div class="t a b s" style="right:988.25px;top:572px">Connecticut</div>
<div class="t a b" style="right:864px;top:572px">100,800</div>
<div class="t i s" style="left:246.5px;top:572px">thru 12/15</div>
<div class="t a b" style="right:614.5px;top:572px">109,839</div>
<div class="t a " style="right:523px;top:572px">91.77%</div>
<div class="t a " style="right:431px;top:572px">110,000</div>
<div class="t a u" style="right:351px;top:572px">91.64%</div>
<div class="t a " style="right:234px;top:572px">125,000</div>
<div class="t a b n" style="right:159px;top:572px">80.64%</div>
<div class="t a " style="right:84.5px;top:572px">250,000</div>
<div class="t a " style="right:9.5px;top:572px">40.32%</div>
<div class="t a b s" style="right:988.25px;top:589px">Arkansas</div>
<div class="t a b" style="right:864px;top:589px">65,451</div>
<div class="t a b" style="right:614.5px;top:589px">65,684</div>
<div class="t a " style="right:523px;top:589px">99.65%</div>
<div class="t a " style="right:431px;top:589px">70,000</div>
<div class="t a u" style="right:351px;top:589px">93.50%</div>
<div class="t a " style="right:234px;top:589px">82,000</div>
<div class="t a b n" style="right:159px;top:589px">79.82%</div>
<div class="t a " style="right:84.5px;top:589px">181,000</div>
<div class="t a " style="right:9.5px;top:589px">36.16%</div>
<div class="t a b s" style="right:988.25px;top:606px">Hawaii</div>
<div class="t a b" style="right:864px;top:606px">11,157</div>
<div class="t a b" style="right:614.5px;top:606px">12,625</div>
<div class="t a " style="right:523px;top:606px">88.37%</div>
<div class="t a " style="right:431px;top:606px">13,000</div>
<div class="t a u" style="right:351px;top:606px">85.82%</div>
<div class="t a " style="right:234px;top:606px">14,000</div>
<div class="t a b n" style="right:159px;top:606px">79.69%</div>
<div class="t a " style="right:84.5px;top:606px">40,000</div>
<div class="t a " style="right:9.5px;top:606px">27.89%</div>
<div class="t a b s" style="right:988.25px;top:623px">Alabama</div>
<div class="t a b" style="right:864px;top:623px">174,708</div>
<div class="t a b" style="right:614.5px;top:623px">171,641</div>
<div class="t a " style="right:523px;top:623px">101.79%</div>
<div class="t a " style="right:431px;top:623px">180,000</div>
<div class="t a u" style="right:351px;top:623px">97.06%</div>
<div class="t a " style="right:234px;top:623px">220,000</div>
<div class="t a b n" style="right:159px;top:623px">79.41%</div>
<div class="t a " style="right:84.5px;top:623px">401,000</div>
<div class="t a " style="right:9.5px;top:623px">43.57%</div>
<div class="t a b s" style="right:988.25px;top:640px">North Dakota</div>
<div class="t a b" style="right:864px;top:640px">19,729</div>
<div class="t a b" style="right:614.5px;top:640px">18,171</div>
<div class="t a " style="right:523px;top:640px">108.57%</div>
<div class="t a " style="right:431px;top:640px">20,000</div>
<div class="t a u" style="right:351px;top:640px">98.65%</div>
<div class="t a " style="right:234px;top:640px">25,000</div>
<div class="t a b n" style="right:159px;top:640px">78.92%</div>
<div class="t a " style="right:84.5px;top:640px">53,000</div>
<div class="t a " style="right:9.5px;top:640px">37.22%</div>
<div class="t a b s" style="right:988.25px;top:657px">Maine</div>
<div class="t a b" style="right:864px;top:657px">78,076</div>
<div class="t a b" style="right:614.5px;top:657px">74,805</div>
<div class="t a " style="right:523px;top:657px">104.37%</div>
<div class="t a " style="right:431px;top:657px">81,000</div>
<div class="t a u" style="right:351px;top:657px">96.39%</div>
<div class="t a " style="right:234px;top:657px">100,000</div>
<div class="t a b n" style="right:159px;top:657px">78.08%</div>
<div class="t a " style="right:84.5px;top:657px">137,000</div>
<div class="t a " style="right:9.5px;top:657px">56.99%</div>
<div class="t a b s" style="right:988.25px;top:674px">Washington</div>
<div class="t a b" style="right:864px;top:674px">162,000</div>
<div class="t i s" style="left:246.5px;top:674px">thru 12/21</div>
<div class="t a b" style="right:614.5px;top:674px">160,732</div>
<div class="t a i" style="right:523px;top:674px">100.79%</div>
<div class="t a " style="right:431px;top:674px">172,000</div>
<div class="t a u" style="right:351px;top:674px">94.19%</div>
<div class="t a " style="right:234px;top:674px">210,000</div>
<div class="t a b n" style="right:159px;top:674px">77.14%</div>
<div class="t a " style="right:84.5px;top:674px">448,000</div>
<div class="t a " style="right:9.5px;top:674px">36.16%</div>
<div class="t a b s" style="right:988.25px;top:691px">West Virginia</div>
<div class="t a b" style="right:864px;top:691px">34,450</div>
<div class="t a b" style="right:614.5px;top:691px">33,421</div>
<div class="t a " style="right:523px;top:691px">103.08%</div>
<div class="t a " style="right:431px;top:691px">35,000</div>
<div class="t a u" style="right:351px;top:691px">98.43%</div>
<div class="t a " style="right:234px;top:691px">45,000</div>
<div class="t a b n" style="right:159px;top:691px">76.56%</div>
<div class="t a " style="right:84.5px;top:691px">77,000</div>
<div class="t a " style="right:9.5px;top:691px">44.74%</div>
<div class="t a b s" style="right:988.25px;top:708px">Florida</div>
<div class="t a b" style="right:864px;top:708px">1,556,561</div>
<div class="t a b" style="right:614.5px;top:708px">1,596,296</div>
<div class="t a " style="right:523px;top:708px">97.51%</div>
<div class="t a " style="right:431px;top:708px">1,680,000</div>
<div class="t a u" style="right:351px;top:708px">92.65%</div>
<div class="t a " style="right:234px;top:708px">2,062,000</div>
<div class="t a b n" style="right:159px;top:708px">75.49%</div>
<div class="t a " style="right:84.5px;top:708px">2,847,000</div>
<div class="t a " style="right:9.5px;top:708px">54.67%</div>
<div class="t a b s" style="right:988.25px;top:725px">Ohio</div>
<div class="t a b" style="right:864px;top:725px">224,139</div>
<div class="t a b" style="right:614.5px;top:725px">234,341</div>
<div class="t a " style="right:523px;top:725px">95.65%</div>
<div class="t a " style="right:431px;top:725px">250,000</div>
<div class="t a u" style="right:351px;top:725px">89.66%</div>
<div class="t a " style="right:234px;top:725px">300,000</div>
<div class="t a b n" style="right:159px;top:725px">74.71%</div>
<div class="t a " style="right:84.5px;top:725px">580,000</div>
<div class="t a " style="right:9.5px;top:725px">38.64%</div>
<div class="t a b s" style="right:988.25px;top:742px">Georgia</div>
<div class="t a b" style="right:864px;top:742px">511,826</div>
<div class="t a b" style="right:614.5px;top:742px">541,080</div>
<div class="t a " style="right:523px;top:742px">94.59%</div>
<div class="t a " style="right:431px;top:742px">560,000</div>
<div class="t a u" style="right:351px;top:742px">91.40%</div>
<div class="t a " style="right:234px;top:742px">693,000</div>
<div class="t a b n" style="right:159px;top:742px">73.86%</div>
<div class="t a " style="right:84.5px;top:742px">1,244,000</div>
<div class="t a " style="right:9.5px;top:742px">41.14%</div>
<div class="t a b s" style="right:988.25px;top:759px">Arizona</div>
<div class="t a b" style="right:864px;top:759px">169,110</div>
<div class="t a b" style="right:614.5px;top:759px">205,666</div>
<div class="t a " style="right:523px;top:759px">82.23%</div>
<div class="t a " style="right:431px;top:759px">220,000</div>
<div class="t a u" style="right:351px;top:759px">76.87%</div>
<div class="t a " style="right:234px;top:759px">231,000</div>
<div class="t a b n" style="right:159px;top:759px">73.21%</div>
<div class="t a " style="right:84.5px;top:759px">468,000</div>
<div class="t a " style="right:9.5px;top:759px">36.13%</div>
<div class="t a b s" style="right:988.25px;top:776px">South Carolina</div>
<div class="t a b" style="right:864px;top:776px">194,982</div>
<div class="t a b" style="right:614.5px;top:776px">210,331</div>
<div class="t a " style="right:523px;top:776px">92.70%</div>
<div class="t a " style="right:431px;top:776px">220,000</div>
<div class="t a u" style="right:351px;top:776px">88.63%</div>
<div class="t a " style="right:234px;top:776px">270,000</div>
<div class="t a b n" style="right:159px;top:776px">72.22%</div>
<div class="t a " style="right:84.5px;top:776px">525,000</div>
<div class="t a " style="right:9.5px;top:776px">37.14%</div>
<div class="t a b s" style="right:988.25px;top:793px">New Jersey</div>
<div class="t a b" style="right:864px;top:793px">258,993</div>
<div class="t a b" style="right:614.5px;top:793px">254,316</div>
<div class="t a " style="right:523px;top:793px">101.84%</div>
<div class="t a " style="right:431px;top:793px">270,000</div>
<div class="t a u" style="right:351px;top:793px">95.92%</div>
<div class="t a " style="right:234px;top:793px">360,000</div>
<div class="t a b n" style="right:159px;top:793px">71.94%</div>
<div class="t a " style="right:84.5px;top:793px">534,000</div>
<div class="t a " style="right:9.5px;top:793px">48.50%</div>
<div class="t a b s" style="right:988.25px;top:810px">Pennsylvania</div>
<div class="t a b" style="right:864px;top:810px">408,147</div>
<div class="t a b" style="right:614.5px;top:810px">472,697</div>
<div class="t a " style="right:523px;top:810px">86.34%</div>
<div class="t a " style="right:431px;top:810px">500,000</div>
<div class="t a u" style="right:351px;top:810px">81.63%</div>
<div class="t a " style="right:234px;top:810px">570,000</div>
<div class="t a b n" style="right:159px;top:810px">71.60%</div>
<div class="t a " style="right:84.5px;top:810px">850,000</div>
<div class="t a " style="right:9.5px;top:810px">48.02%</div>
<div class="t a b s" style="right:988.25px;top:827px">Illinois</div>
<div class="t a b" style="right:864px;top:827px">346,869</div>
<div class="t a b" style="right:614.5px;top:827px">349,487</div>
<div class="t a " style="right:523px;top:827px">99.25%</div>
<div class="t a " style="right:431px;top:827px">370,000</div>
<div class="t a u" style="right:351px;top:827px">93.75%</div>
<div class="t a " style="right:234px;top:827px">500,000</div>
<div class="t a b n" style="right:159px;top:827px">69.37%</div>
<div class="t a " style="right:84.5px;top:827px">787,000</div>
<div class="t a " style="right:9.5px;top:827px">44.07%</div>
<div class="t a b s" style="right:988.25px;top:844px">Indiana</div>
<div class="t a b" style="right:864px;top:844px">181,995</div>
<div class="t a b" style="right:614.5px;top:844px">219,185</div>
<div class="t a " style="right:523px;top:844px">83.03%</div>
<div class="t a " style="right:431px;top:844px">230,000</div>
<div class="t a u" style="right:351px;top:844px">79.13%</div>
<div class="t a " style="right:234px;top:844px">268,000</div>
<div class="t a b n" style="right:159px;top:844px">67.91%</div>
<div class="t a " style="right:84.5px;top:844px">522,000</div>
<div class="t a " style="right:9.5px;top:844px">34.86%</div>
<div class="t a b s" style="right:988.25px;top:861px">Mississippi</div>
<div class="t a b" style="right:864px;top:861px">93,999</div>
<div class="t a b" style="right:614.5px;top:861px">104,538</div>
<div class="t a " style="right:523px;top:861px">89.92%</div>
<div class="t a " style="right:431px;top:861px">110,000</div>
<div class="t a u" style="right:351px;top:861px">85.45%</div>
<div class="t a " style="right:234px;top:861px">140,000</div>
<div class="t a b n" style="right:159px;top:861px">67.14%</div>
<div class="t a " style="right:84.5px;top:861px">261,000</div>
<div class="t a " style="right:9.5px;top:861px">36.01%</div>
<div class="t a b s" style="right:988.25px;top:878px">New Mexico</div>
<div class="t a b" style="right:864px;top:878px">46,816</div>
<div class="t a b" style="right:614.5px;top:878px">52,358</div>
<div class="t a " style="right:523px;top:878px">89.42%</div>
<div class="t a " style="right:431px;top:878px">56,000</div>
<div class="t a u" style="right:351px;top:878px">83.60%</div>
<div class="t a " style="right:234px;top:878px">70,000</div>
<div class="t a b n" style="right:159px;top:878px">66.88%</div>
<div class="t a " style="right:84.5px;top:878px">134,000</div>
<div class="t a " style="right:9.5px;top:878px">34.94%</div>
<div class="t a b s" style="right:988.25px;top:895px">Kansas</div>
<div class="t a b" style="right:864px;top:895px">86,411</div>
<div class="t a b" style="right:614.5px;top:895px">96,197</div>
<div class="t a " style="right:523px;top:895px">89.83%</div>
<div class="t a " style="right:431px;top:895px">100,000</div>
<div class="t a u" style="right:351px;top:895px">86.41%</div>
<div class="t a " style="right:234px;top:895px">130,000</div>
<div class="t a b n" style="right:159px;top:895px">66.47%</div>
<div class="t a " style="right:84.5px;top:895px">273,000</div>
<div class="t a " style="right:9.5px;top:895px">31.65%</div>
<div class="t a b s" style="right:988.25px;top:912px">Texas</div>
<div class="t a b" style="right:864px;top:912px">1,096,868</div>
<div class="t a b" style="right:614.5px;top:912px">1,205,174</div>
<div class="t a " style="right:523px;top:912px">91.01%</div>
<div class="t a " style="right:431px;top:912px">1,280,000</div>
<div class="t a u" style="right:351px;top:912px">85.69%</div>
<div class="t a " style="right:234px;top:912px">1,700,000</div>
<div class="t a b n" style="right:159px;top:912px">64.52%</div>
<div class="t a " style="right:84.5px;top:912px">3,046,000</div>
<div class="t a " style="right:9.5px;top:912px">36.01%</div>
<div class="t a b s" style="right:988.25px;top:929px">Colorado</div>
<div class="t a b" style="right:864px;top:929px">116,394</div>
<div class="t i s" style="left:246.5px;top:929px">thru 12/15</div>
<div class="t a b" style="right:614.5px;top:929px">140,327</div>
<div class="t a " style="right:523px;top:929px">82.94%</div>
<div class="t a " style="right:431px;top:929px">190,000</div>
<div class="t a u" style="right:351px;top:929px">61.26%</div>
<div class="t a " style="right:234px;top:929px">190,000</div>
<div class="t a b n" style="right:159px;top:929px">61.26%</div>
<div class="t a " style="right:84.5px;top:929px">394,000</div>
<div class="t a " style="right:9.5px;top:929px">29.54%</div>
<div class="t a b s" style="right:988.25px;top:946px">Minnesota</div>
<div class="t a b" style="right:864px;top:946px">26,532</div>
<div class="t i s" style="left:246.5px;top:946px">thru 12/13; deadline 12/28</div>
<div class="t a b" style="right:614.5px;top:946px">59,704</div>
<div class="t a " style="right:523px;top:946px">44.44%</div>
<div class="t a " style="right:431px;top:946px">80,000</div>
<div class="t a u" style="right:351px;top:946px">33.17%</div>
<div class="t a " style="right:234px;top:946px">80,000</div>
<div class="t a b n" style="right:159px;top:946px">33.17%</div>
<div class="t a " style="right:84.5px;top:946px">204,000</div>
<div class="t a " style="right:9.5px;top:946px">13.01%</div>
<div class="t a b s" style="right:988.25px;top:963px">California</div>
<div class="t a b" style="right:864px;top:963px">197,000</div>
<div class="t i s" style="left:246.5px;top:963px">thru 12/15; NEW only</div>
<div class="t a b" style="right:614.5px;top:963px">1,412,200</div>
<div class="t a " style="right:523px;top:963px">13.95%</div>
<div class="t a " style="right:431px;top:963px">1,700,000</div>
<div class="t a u" style="right:351px;top:963px">11.59%</div>
<div class="t a " style="right:234px;top:963px">1,800,000</div>
<div class="t a b n" style="right:159px;top:963px">10.94%</div>
<div class="t a " style="right:84.5px;top:963px">2,890,000</div>
<div class="t a " style="right:9.5px;top:963px">6.82%</div>
<div class="t a b s" style="right:988.25px;top:980px">DC</div>
<div class="t i s" style="left:246.5px;top:980px">NO DATA</div>
<div class="t a b" style="right:614.5px;top:980px">18,465</div>
<div class="t a " style="right:523px;top:980px">0.00%</div>
<div class="t a " style="right:431px;top:980px">20,000</div>
<div class="t a u" style="right:351px;top:980px">0.00%</div>
<div class="t a " style="right:234px;top:980px">23,000</div>
<div class="t a b n" style="right:159px;top:980px">0.00%</div>
<div class="t a " style="right:84.5px;top:980px">30,000</div>
<div class="t a " style="right:9.5px;top:980px">0.00%</div>
<div class="g" style="left:493px;top:980px"></div>
<div class="g" style="left:677px;top:980px"></div>
<div class="g" style="left:874px;top:980px"></div>
<div class="g" style="left:1024px;top:980px"></div>
<div class="t a b s" style="right:988.25px;top:997px">Kentucky</div>
<div class="t i s q" style="left:246.5px;top:997px">NO DATA</div>
<div class="t a b q" style="right:614.5px;top:997px">106,330</div>
<div class="t a " style="right:523px;top:997px">0.00%</div>
<div class="t a " style="right:431px;top:997px">114,000</div>
<div class="t a u" style="right:351px;top:997px">0.00%</div>
<div class="t a " style="right:234px;top:997px">125,000</div>
<div class="t a b n" style="right:159px;top:997px">0.00%</div>
<div class="t a " style="right:84.5px;top:997px">174,000</div>
<div class="t a " style="right:9.5px;top:997px">0.00%</div>
<div class="g" style="left:493px;top:997px"></div>
<div class="g" style="left:677px;top:997px"></div>
<div class="g" style="left:874px;top:997px"></div>
<div class="g" style="left:1024px;top:997px"></div>
<div class="t a b s" style="right:988.25px;top:1014px">New York</div>
<div class="t i s" style="left:246.5px;top:1014px">NO DATA</div>
<div class="t a b" style="right:614.5px;top:1014px">408,841</div>
<div class="t a " style="right:523px;top:1014px">0.00%</div>
<div class="t a " style="right:431px;top:1014px">430,000</div>
<div class="t a u" style="right:351px;top:1014px">0.00%</div>
<div class="t a " style="right:234px;top:1014px">416,000</div>
<div class="t a b n" style="right:159px;top:1014px">0.00%</div>
<div class="t a " style="right:84.5px;top:1014px">957,000</div>
<div class="t a " style="right:9.5px;top:1014px">0.00%</div>
<div class="g" style="left:493px;top:1014px"></div>
<div class="g" style="left:677px;top:1014px"></div>
<div class="g" style="left:874px;top:1014px"></div>
<div class="g" style="left:1024px;top:1014px"></div>
<div class="t a b s" style="right:988.25px;top:1031px">Vermont</div>
<div class="t i s" style="left:246.5px;top:1031px">NO DATA</div>
<div class="t a b" style="right:614.5px;top:1031px">31,619</div>
<div class="t a " style="right:523px;top:1031px">0.00%</div>
<div class="t a " style="right:431px;top:1031px">33,000</div>
<div class="t a u" style="right:351px;top:1031px">0.00%</div>
<div class="t a " style="right:234px;top:1031px">35,000</div>
<div class="t a b n" style="right:159px;top:1031px">0.00%</div>
<div class="t a " style="right:84.5px;top:1031px">55,000</div>
<div class="t a " style="right:9.5px;top:1031px">0.00%</div>
<div class="g" style="left:493px;top:1031px"></div>
<div class="g" style="left:677px;top:1031px"></div>
<div class="g" style="left:874px;top:1031px"></div>
<div class="g" style="left:1024px;top:1031px"></div>
<div class="t a b" style="right:988.25px;top:1067px">TOTAL:</div>
<div class="t a b" style="right:864px;top:1067px">9,584,322</div>
<div class="t a b" style="right:614.5px;top:1067px">11,688,074</div>
<div class="t a b" style="right:523px;top:1067px">82.00%</div>
<div class="t a b" style="right:431px;top:1067px">12,647,000</div>
<div class="t a b u" style="right:351px;top:1067px">75.78%</div>
<div class="t a b" style="right:234px;top:1067px">14,700,000</div>
<div class="t a b n" style="right:159px;top:1067px">65.20%</div>
<div class="t a b" style="right:84.5px;top:1067px">25,403,000</div>
<div class="t a b" style="right:9.5px;top:1067px">37.73%</div>
<div class="g" style="left:119px;top:1067px"></div>
<div class="g" style="left:493px;top:1067px"></div>
<div class="g" style="left:677px;top:1067px"></div>
<div class="g" style="left:874px;top:1067px"></div>
<div class="h big ttl" style="left:7px;top:6px;width:1090px;height:57px"><div>% of 2016 QHP Target Attained (as of 12/26/15 for most states)<br>All states are missing at least a few days of data • ACASignups.net</div></div>
<div class="h big" style="left:413px;top:66px;width:170px;height:57px"><div>2016 vs. 2015</div></div>
<div class="h u" style="left:585px;top:66px;width:170px;height:57px"><div>2016 Open Enrollment<br>vs.<br>HHS Projections</div></div>
<div class="h n" style="left:757px;top:66px;width:190px;height:57px"><div>2016 Open Enrollment<br>vs.<br>ACA Signups Projection</div></div>
<div class="h big" style="left:949px;top:66px;width:148px;height:57px"><div>2016 vs.<br>TOTAL ELGIBLE</div></div>
<div class="h " style="left:7px;top:125px;width:110px;height:54px"><div>State</div></div>
<div class="h " style="left:119px;top:126px;width:124px;height:54px"><div>2016 Total QHPs<br>(most as of 12/26)</div></div>
<div class="h " style="left:244px;top:125px;width:167px;height:54px"><div>Notes</div></div>
<div class="h " style="left:413px;top:125px;width:79px;height:54px"><div>2015<br>Open<br>Enrollment</div></div>
<div class="h " style="left:493px;top:125px;width:90px;height:54px"><div>% of 2015<br>Open<br>Enrollment</div></div>
<div class="h " style="left:585px;top:125px;width:91px;height:54px"><div>Government<br>Projection<br>(12.6M total)</div></div>
<div class="h u" style="left:677px;top:126px;width:78px;height:54px"><div>% of Gov't<br>Projection</div></div>
<div class="h " style="left:757px;top:125px;width:115px;height:54px"><div>ACASignups.net<br>Projection<br>(14.7M total)</div></div>
<div class="h n" style="left:874px;top:126px;width:73px;height:54px"><div>% of My<br>Projection</div></div>
<div class="h " style="left:949px;top:126px;width:74px;height:54px"><div>TOTAL<br>ELIGIBLE</div></div>
<div class="h " style="left:1024px;top:125px;width:73px;height:54px"><div>% of<br>TOTAL<br>ELIGIBLE</div></div>
</body></html>
